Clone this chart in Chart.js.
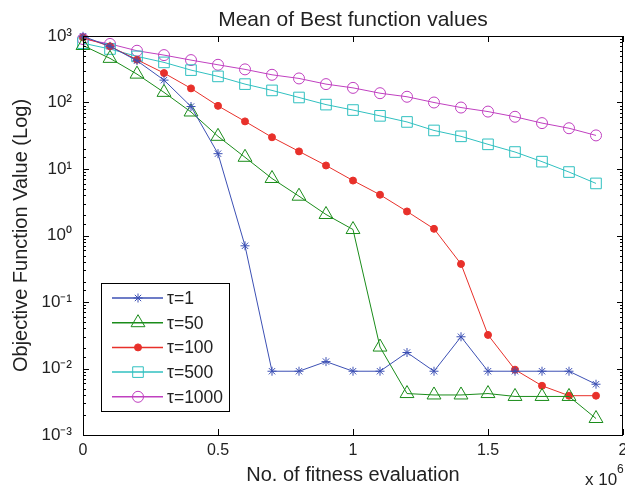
<!DOCTYPE html>
<html><head><meta charset="utf-8">
<script src="https://cdn.jsdelivr.net/npm/chart.js@4/dist/chart.umd.min.js"></script>
<style>html,body{margin:0;padding:0;background:#fff}#wrap{width:625px;height:488px}</style>
</head><body><div id="wrap"><canvas id="c" width="625" height="488"></canvas></div>
<script>
// x values are numbers of fitness evaluations in units of 10^6
const evaluations = [0,0.1,0.2,0.3,0.4,0.5,0.6,0.7,0.8,0.9,1.0,1.1,1.2,1.3,1.4,1.5,1.6,1.7,1.8,1.9];
const tau1    = [990,700,425,217,87,17,0.70,0.0091,0.0091,0.0127,0.0091,0.0091,0.0174,0.0091,0.030,0.0091,0.0091,0.0091,0.0091,0.0058];
const tau50   = [720,461,267,142,72,31,15,7.2,3.9,2.07,1.23,0.021,0.0042,0.0040,0.0040,0.0042,0.0038,0.0038,0.0038,0.00177];
const tau100  = [950,700,440,277,163,89,52,30,18.4,11.3,6.7,4.1,2.3,1.26,0.373,0.032,0.0096,0.0055,0.0039,0.0039];
const tau500  = [780,637,494,401,307,247,189,152,119,93,77,63,51,38,31,23.5,18,12.9,9.0,6.07];
const tau1000 = [900,760,600,516,434,369,315,261,230,189,166,138,122,100,84,73,61,49,41,32];
const seriesLabels = ['τ=1','τ=50','τ=100','τ=500','τ=1000'];
const xTicks = [0,0.5,1,1.5,2];
const yPowers = [-3,-2,-1,0,1,2,3];
const supMap = {'-':'⁻','0':'⁰','1':'¹','2':'²','3':'³','4':'⁴','5':'⁵','6':'⁶','7':'⁷','8':'⁸','9':'⁹'};

const FONT = "'Liberation Sans', Arial, Helvetica, sans-serif";
Chart.defaults.font.family = FONT;
Chart.defaults.color = '#222';

const styles = [
  {color:'#3c50b4', pointStyle:'star', radius:4.5, fill:'transparent'},
  {color:'#1a8c1a', pointStyle:'triangle', radius:8, fill:'transparent'},
  {color:'#e8302a', pointStyle:'circle', radius:3.5, fill:'#e8302a'},
  {color:'#30c0c0', pointStyle:'rect', radius:7.5, fill:'transparent'},
  {color:'#c040c0', pointStyle:'circle', radius:5.5, fill:'transparent'}
];
const allSeries = [tau1, tau50, tau100, tau500, tau1000];

const datasets = allSeries.map((s, i) => ({
  label: seriesLabels[i],
  data: evaluations.map((x, j) => ({x: x, y: s[j]})),
  borderColor: styles[i].color,
  backgroundColor: styles[i].fill,
  borderWidth: 1,
  pointStyle: styles[i].pointStyle,
  pointRadius: styles[i].radius,
  pointHoverRadius: styles[i].radius,
  pointBorderWidth: 1,
  pointBorderColor: styles[i].color,
  pointBackgroundColor: styles[i].fill,
  tension: 0,
  clip: false
}));

const zeroPad = () => ({left: 0, top: 0, right: 0, bottom: 0});

const framePlugin = {
  id: 'frame',
  afterDatasetsDraw(chart) {
    const {ctx, chartArea: a} = chart;
    const xs = chart.scales.x, ys = chart.scales.y;
    ctx.save();
    ctx.strokeStyle = '#000';
    ctx.lineWidth = 1;
    ctx.beginPath();
    // inward ticks (major and minor) on all four sides, MATLAB style
    ys.ticks.forEach(t => {
      const v = t.value;
      const lg = Math.log10(v);
      const major = Math.abs(lg - Math.round(lg)) < 1e-9;
      const len = major ? 6 : 3;
      const py = Math.round(ys.getPixelForValue(v)) + 0.5;
      ctx.moveTo(a.left, py); ctx.lineTo(a.left + len, py);
      ctx.moveTo(a.right, py); ctx.lineTo(a.right - len, py);
    });
    xTicks.forEach(v => {
      const px = Math.round(xs.getPixelForValue(v)) + 0.5;
      ctx.moveTo(px, a.bottom); ctx.lineTo(px, a.bottom - 6);
      ctx.moveTo(px, a.top); ctx.lineTo(px, a.top + 6);
    });
    ctx.stroke();
    ctx.strokeRect(Math.round(a.left) + 0.5, Math.round(a.top) + 0.5, Math.round(a.right - a.left) - 1, Math.round(a.bottom - a.top));
    // axis multiplier
    ctx.fillStyle = '#222';
    ctx.textBaseline = 'alphabetic';
    ctx.textAlign = 'left';
    ctx.font = '17px ' + FONT;
    ctx.fillText('x 10', 585, 485);
    ctx.font = '12px ' + FONT;
    ctx.fillText('6', 617, 473);
    // legend box
    const L = {left: 101, top: 283, right: 229, bottom: 411};
    ctx.fillStyle = '#fff';
    ctx.fillRect(L.left, L.top, L.right - L.left, L.bottom - L.top);
    ctx.strokeRect(L.left + 0.5, L.top + 0.5, L.right - L.left, L.bottom - L.top);
    chart.data.datasets.forEach((ds, i) => {
      const y = 298 + i * 24.7;
      ctx.strokeStyle = ds.borderColor;
      ctx.lineWidth = 1.5;
      ctx.beginPath(); ctx.moveTo(112, y); ctx.lineTo(163, y); ctx.stroke();
      ctx.lineWidth = 1;
      ctx.fillStyle = ds.pointBackgroundColor;
      Chart.helpers.drawPoint(ctx, {pointStyle: ds.pointStyle, radius: ds.pointRadius, rotation: 0, borderWidth: 1}, 138, y);
      ctx.fillStyle = '#222';
      ctx.font = '17.5px ' + FONT;
      ctx.textBaseline = 'middle';
      ctx.fillText(ds.label, 167, y + 1);
    });
    ctx.restore();
  }
};

new Chart(document.getElementById('c'), {
  type: 'line',
  data: {datasets},
  options: {
    responsive: false,
    animation: false,
    devicePixelRatio: 1,
    layout: {autoPadding: false, padding: {left: 0, right: 2, top: 0, bottom: 0}},
    plugins: {
      legend: {display: false},
      tooltip: {enabled: false},
      title: {display: true, text: 'Mean of Best function values', color: '#222', fullSize: false,
              font: {size: 21, weight: 'normal'}, padding: {top: 8, bottom: 2.8}}
    },
    scales: {
      x: {
        type: 'linear', min: 0, max: 2,
        afterBuildTicks: s => { s.ticks = xTicks.map(v => ({value: v})); },
        ticks: {font: {size: 16}, color: '#222', padding: 6, maxRotation: 0,
                callback: v => String(v)},
        grid: {display: false, drawTicks: false},
        border: {display: false},
        title: {display: true, text: 'No. of fitness evaluation', color: '#222', font: {size: 20}, padding: {top: 0, bottom: 1}},
        afterFit: s => { s.height = 53; s.paddingLeft = 0; s.paddingRight = 0; s.getPadding = zeroPad; }
      },
      y: {
        type: 'logarithmic', min: 1e-3, max: 1e3,
        ticks: {font: {size: 17}, color: '#222', padding: 11, autoSkip: false,
                callback: (v) => {
                  const lg = Math.log10(v);
                  if (Math.abs(lg - Math.round(lg)) > 1e-9) return '';
                  const p = Math.round(lg);
                  if (!yPowers.includes(p)) return '';
                  return '10' + String(p).split('').map(c => supMap[c]).join('');
                }},
        grid: {display: false, drawTicks: false},
        border: {display: false},
        title: {display: true, text: 'Objective Function Value (Log)', color: '#222', font: {size: 20}, padding: {top: 9, bottom: 0}},
        afterFit: s => { s.width = 83; s.paddingTop = 0; s.paddingBottom = 0; s.getPadding = zeroPad; }
      }
    }
  },
  plugins: [framePlugin]
});
</script>
</body></html>
